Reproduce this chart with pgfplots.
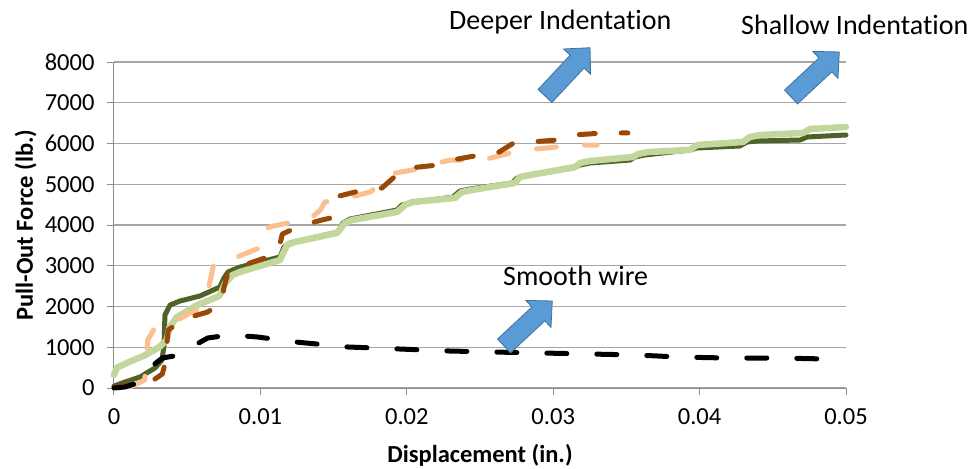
\documentclass[border=0pt]{standalone}
\usepackage{fontspec}
\setmainfont{Carlito}[Ligatures=NoCommon]
\usepackage{pgfplots}
\pgfplotsset{compat=1.18}

\definecolor{shallowA}{HTML}{4F6228}
\definecolor{shallowB}{HTML}{C3D69B}
\definecolor{deepA}{HTML}{984807}
\definecolor{deepB}{HTML}{FAC090}
\definecolor{gridgray}{HTML}{A6A6A6}
\definecolor{axisgray}{HTML}{8C8C8C}
\definecolor{arrowfill}{HTML}{5B9BD5}
\definecolor{arrowdraw}{HTML}{41719C}

% block arrow: tail centre (x,y in pt), angle
\newcommand{\blockarrow}[3]{%
  \draw[fill=arrowfill, draw=arrowdraw, line width=0.8pt, line join=miter,
        shift={(#1pt,#2pt)}, rotate=#3]
    (0pt,-9.5pt) -- (47pt,-9.5pt) -- (47pt,-18.5pt) -- (66pt,0pt)
    -- (47pt,18.5pt) -- (47pt,9.5pt) -- (0pt,9.5pt) -- cycle;}

\begin{document}
\begin{tikzpicture}
\useasboundingbox (-114pt,-80pt) rectangle (859pt,388pt);
\begin{axis}[
    at={(0pt,0pt)}, anchor=south west,
    scale only axis,
    width=732pt, height=326pt,
    xmin=0, xmax=0.05,
    ymin=0, ymax=8000,
    xtick={0,0.01,0.02,0.03,0.04,0.05},
    ytick={0,1000,...,8000},
    scaled x ticks=false, scaled y ticks=false,
    axis lines=left,
    axis line style={-, draw=axisgray, line width=1pt},
    tick style={draw=axisgray, line width=1pt},
    tick align=outside,
    major tick length=7pt,
    ymajorgrids,
    grid style={draw=gridgray, line width=1.2pt},
    ticklabel style={font=\fontsize{24.5}{28}\selectfont, text=black},
    xticklabel style={/pgf/number format/fixed, /pgf/number format/precision=2,
        /pgf/number format/assume math mode=true, yshift=-10pt},
    yticklabel style={/pgf/number format/1000 sep={},
        /pgf/number format/assume math mode=true, xshift=-9pt},
    xlabel={\textbf{Displacement (in.)}},
    ylabel={\textbf{Pull-Out Force (lb.)}},
    label style={font=\fontsize{24.5}{28}\selectfont},
    xlabel style={at={(axis description cs:0.5,-0.230)}, anchor=base},
    ylabel style={at={(axis description cs:-0.1107,0.5)}, anchor=base},
    clip=false,
]
% shallow indentation, specimen 1
\addplot[shallowA, line width=5pt, line cap=round, line join=round] coordinates {
(0,49) (0.00075,147) (0.00178,270) (0.0028,491) (0.00328,687) (0.00342,1055)
(0.00348,1791) (0.00383,2037) (0.00451,2135) (0.00587,2258) (0.00724,2479)
(0.00751,2700) (0.00779,2847) (0.00861,2969) (0.01134,3215) (0.01161,3460)
(0.01202,3558) (0.0153,3828) (0.01564,4049) (0.01612,4147) (0.01933,4368)
(0.01967,4491) (0.02022,4540) (0.02316,4687) (0.02363,4834) (0.02432,4883)
(0.02719,5031) (0.02753,5153) (0.02807,5202) (0.03135,5399) (0.03183,5472)
(0.03251,5521) (0.03525,5595) (0.03559,5669) (0.03627,5718) (0.03934,5841)
(0.03982,5890) (0.04276,5939) (0.04324,6037) (0.04392,6061) (0.04686,6086)
(0.04734,6160) (0.05,6209)
};
% shallow indentation, specimen 2
\addplot[shallowB, line width=6.5pt, line cap=round, line join=round] coordinates {
(0,319) (0.0002,500) (0.0011,650) (0.0021,800) (0.0031,1006) (0.0036,1178)
(0.0038,1497) (0.0043,1742) (0.0057,2037) (0.0072,2258) (0.0076,2577)
(0.0081,2773) (0.0086,2847) (0.01134,3141) (0.01182,3509) (0.01236,3583)
(0.01523,3804) (0.01578,4049) (0.01626,4123) (0.01933,4319) (0.01988,4491)
(0.02036,4564) (0.02329,4663) (0.02377,4810) (0.02445,4859) (0.02739,5031)
(0.02773,5178) (0.02842,5227) (0.03149,5423) (0.03183,5521) (0.03251,5571)
(0.03545,5669) (0.03579,5742) (0.03648,5791) (0.03934,5841) (0.03982,5963)
(0.04296,6037) (0.04344,6160) (0.04413,6209) (0.04706,6258) (0.04754,6356)
(0.05,6405)
};
% deeper indentation, specimen 2
\addplot[deepB, line width=5pt, line cap=round, line join=round,
    dash pattern=on 20pt off 28pt] coordinates {
(0.0011,25) (0.0021,196) (0.0023,1178) (0.0027,1423) (0.0036,1521) (0.0052,1841)
(0.0059,1963) (0.0064,2356) (0.0068,3018) (0.0074,3141) (0.0084,3215)
(0.0101,3460) (0.0102,3902) (0.0109,3975) (0.0122,4074) (0.0133,4123)
(0.0141,4368) (0.0144,4564) (0.0159,4663) (0.0175,4810) (0.018,4957)
(0.0192,5276) (0.0204,5350) (0.0221,5522) (0.023,5595) (0.0252,5595)
(0.026,5669) (0.0279,5841) (0.0296,5890) (0.0313,5963) (0.033,5963)
};
% deeper indentation, specimen 1
\addplot[deepA, line width=5pt, line cap=round, line join=round,
    dash pattern=on 16pt off 26pt] coordinates {
(0,25) (0.0018,98) (0.0027,196) (0.0033,344) (0.0035,614) (0.0036,1055)
(0.0037,1423) (0.0042,1546) (0.005,1718) (0.0064,1865) (0.0074,2110)
(0.0075,2454) (0.0078,2847) (0.0085,2945) (0.0093,3068) (0.0107,3239)
(0.0112,3337) (0.0115,3779) (0.0127,3975) (0.0142,4123) (0.0148,4172)
(0.0153,4442) (0.0154,4712) (0.017,4859) (0.0183,4908) (0.0193,5227)
(0.0202,5399) (0.0221,5472) (0.0231,5595) (0.025,5718) (0.0262,5767)
(0.0273,6012) (0.0284,6037) (0.0303,6086) (0.0314,6209) (0.0334,6258)
(0.0351,6258)
};
% smooth wire
\addplot[black, line width=5pt, line cap=round, line join=round,
    dash pattern=on 20pt off 30pt] coordinates {
(0,0) (0.00075,25) (0.0016,123) (0.0027,564) (0.0033,736) (0.0045,810)
(0.0053,1006) (0.0064,1227) (0.0079,1301) (0.0098,1252) (0.0124,1129)
(0.016,1006) (0.0195,957) (0.0229,908) (0.0259,883) (0.0292,859)
(0.0325,834) (0.0357,810) (0.0385,761) (0.0418,736) (0.0454,736)
(0.0486,712) (0.05,712)
};
\end{axis}

% annotations
\blockarrow{431}{292}{47}
\blockarrow{677}{291}{43}
\blockarrow{390}{42}{43}
\node[anchor=base west, inner sep=0pt, font=\fontsize{28}{32}\selectfont]
  at (335pt,358pt) {Deeper Indentation};
\node[anchor=base west, inner sep=0pt, font=\fontsize{28}{32}\selectfont]
  at (627pt,353pt) {Shallow Indentation};
\node[anchor=base west, inner sep=0pt, font=\fontsize{28}{32}\selectfont]
  at (389pt,102pt) {Smooth wire};
\end{tikzpicture}
\end{document}
